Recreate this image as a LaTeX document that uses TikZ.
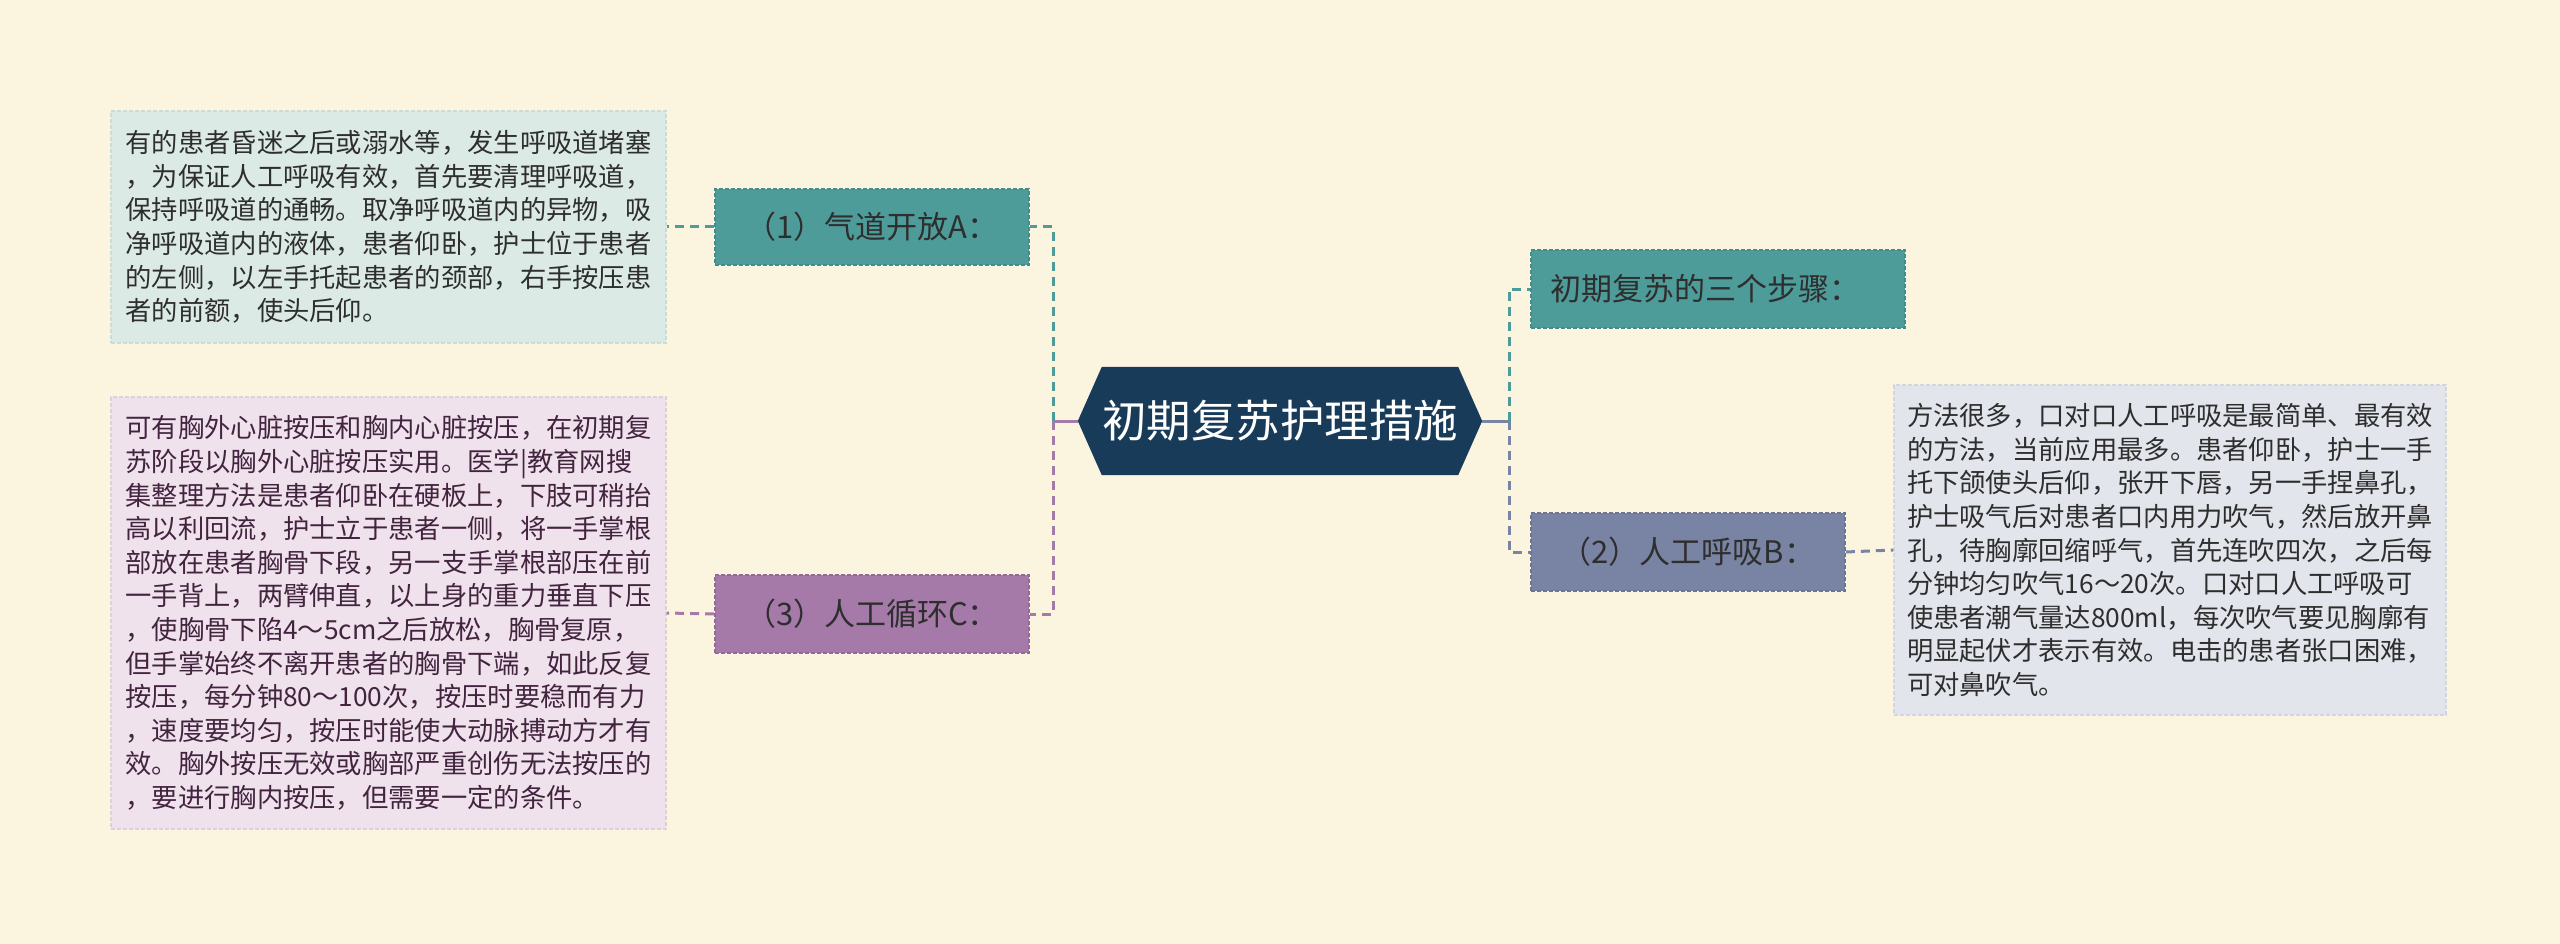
\documentclass[tikz,border=0pt]{standalone}
\usepackage{fontspec}
\setmainfont{Noto Sans CJK SC}
\definecolor{bg}{HTML}{FBF5E0}
\definecolor{navy}{HTML}{173B59}
\definecolor{tealc}{HTML}{4E9C9A}
\definecolor{tealb}{HTML}{3E8684}
\definecolor{purc}{HTML}{A57AA8}
\definecolor{purb}{HTML}{8E6391}
\definecolor{grayc}{HTML}{7983A3}
\definecolor{grayb}{HTML}{666F8E}
\definecolor{boxA}{HTML}{DCEAE6}
\definecolor{boxAb}{HTML}{C9DDD8}
\definecolor{boxB}{HTML}{E3E5EC}
\definecolor{boxBb}{HTML}{D2D5E0}
\definecolor{boxC}{HTML}{EFE2EC}
\definecolor{boxCb}{HTML}{E0CEDC}
\definecolor{txtd}{HTML}{2E2E2E}
\definecolor{txtc}{HTML}{43243F}
\begin{document}
\begin{tikzpicture}[x=1pt,y=-1pt,
  topic/.style={draw, dashed, line width=1.6pt, dash pattern=on 4pt off 2pt, minimum height=78pt, inner sep=0pt, text=txtd, font=\fontsize{31}{36}\selectfont},
  textbox/.style={draw, dashed, line width=1.4pt, dash pattern=on 4pt off 2pt, align=left, inner sep=0pt, font=\fontsize{26.3}{33.6}\selectfont},
  link/.style={line width=3pt, dash pattern=on 9pt off 6pt},
  stem/.style={line width=3pt}]
\useasboundingbox (0,0) rectangle (2560,944);
\fill[bg] (0,0) rectangle (2560,944);

% root
\path node[minimum width=404pt, minimum height=108pt, inner sep=0pt] (root) at (1280,421) {};
\fill[navy] (root.west) -- ([xshift=24pt]root.north west) -- ([xshift=-24pt]root.north east)
  -- (root.east) -- ([xshift=-24pt]root.south east) -- ([xshift=24pt]root.south west) -- cycle;
\node[text=white, font=\fontsize{44.5}{50}\selectfont] (rootlabel) at (root.center) {初期复苏护理措施};

% topics
\node[topic, fill=tealc, draw=tealb!70!tealc, minimum width=314pt, minimum height=76pt] (nA) at (872,227) {（1）气道开放A：};
\node[topic, fill=purc, draw=purb!70!purc, minimum width=314pt] (nC) at (872,614) {（3）人工循环C：};
\node[topic, fill=tealc, draw=tealb!70!tealc, minimum width=374pt, text width=336pt, align=left, inner xsep=19pt] (nS) at (1718,289) {初期复苏的三个步骤：};
\node[topic, fill=grayc, draw=grayb!70!grayc, minimum width=314pt] (nB) at (1688,552) {（2）人工呼吸B：};

% text boxes
\node[textbox, fill=boxA, draw=boxAb, text=txtd, minimum width=555pt, minimum height=232pt] (bA) at (388.5,227) {有的患者昏迷之后或溺水等，发生呼吸道堵塞\\，为保证人工呼吸有效，首先要清理呼吸道，\\保持呼吸道的通畅。取净呼吸道内的异物，吸\\净呼吸道内的液体，患者仰卧，护士位于患者\\的左侧，以左手托起患者的颈部，右手按压患\\者的前额，使头后仰。};

\node[textbox, fill=boxC, draw=boxCb, text=txtc, minimum width=555pt, minimum height=432pt] (bC) at (388.5,613) {可有胸外心脏按压和胸内心脏按压，在初期复\\苏阶段以胸外心脏按压实用。医学|教育网搜\\集整理方法是患者仰卧在硬板上，下肢可稍抬\\高以利回流，护士立于患者一侧，将一手掌根\\部放在患者胸骨下段，另一支手掌根部压在前\\一手背上，两臂伸直，以上身的重力垂直下压\\，使胸骨下陷4～5cm之后放松，胸骨复原，\\但手掌始终不离开患者的胸骨下端，如此反复\\按压，每分钟80～100次，按压时要稳而有力\\，速度要均匀，按压时能使大动脉搏动方才有\\效。胸外按压无效或胸部严重创伤无法按压的\\，要进行胸内按压，但需要一定的条件。};

\node[textbox, fill=boxB, draw=boxBb, text=txtd, minimum width=552pt, minimum height=330pt] (bB) at (2170,550) {方法很多，口对口人工呼吸是最简单、最有效\\的方法，当前应用最多。患者仰卧，护士一手\\托下颌使头后仰，张开下唇，另一手捏鼻孔，\\护士吸气后对患者口内用力吹气，然后放开鼻\\孔，待胸廓回缩呼气，首先连吹四次，之后每\\分钟均匀吹气16～20次。口对口人工呼吸可\\使患者潮气量达800ml，每次吹气要见胸廓有\\明显起伏才表示有效。电击的患者张口困难，\\可对鼻吹气。};

% connectors
\coordinate (ls) at (1053,421);
\coordinate (rs) at (1509,421);
\draw[stem, purc] (root.west) -- (ls);
\draw[stem, grayc] (root.east) -- (rs);
\draw[link, tealc] (ls) |- (nA.east);
\draw[link, purc] (ls) |- (nC.east);
\draw[link, tealc] (rs) |- (nS.west);
\draw[link, grayc] (rs) |- (nB.west);
\draw[link, tealc] (nA.west) -- (bA.east);
\draw[link, purc] (nC.west) -- (bC.east);
\draw[link, grayc] (nB.east) -- (bB.west);
\end{tikzpicture}
\end{document}
